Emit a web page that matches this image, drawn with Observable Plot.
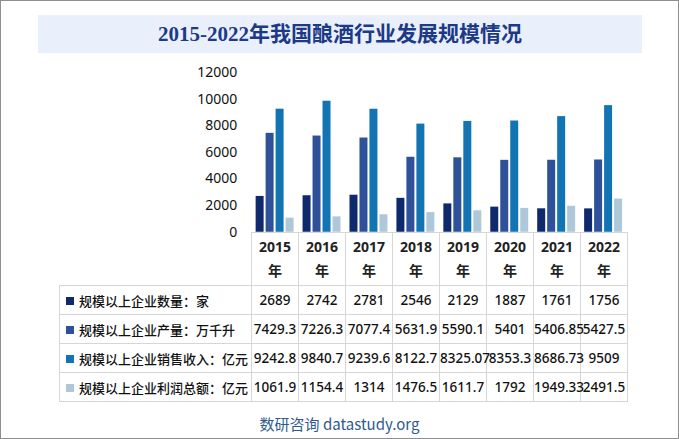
<!DOCTYPE html>
<html>
<head>
<meta charset="utf-8">
<script src="https://cdn.jsdelivr.net/npm/d3@7"></script>
<script src="https://cdn.jsdelivr.net/npm/@observablehq/plot@0.6"></script>
<style>
  html, body { margin: 0; padding: 0; background: #fff; }
  #frame {
    position: relative; width: 677px; height: 437px;
    border: 1px solid #8e8e8e; background: #fff; overflow: hidden;
    font-family: "Noto Sans", "Noto Sans CJK SC", sans-serif;
  }
  #title {
    position: absolute; left: 37px; top: 14px; width: 604px; height: 38px;
    background: #e9f0fb; color: #1c3a86; text-align: center;
    font: bold 21px/38px "Liberation Serif", "Noto Sans CJK SC", serif;
  }
  #chart { position: absolute; left: -1px; top: 59px; }
  #chart svg { overflow: visible; }
  #tbl {
    position: absolute; left: 58px; top: 231px; width: 568px;
    border-collapse: collapse; table-layout: fixed;
    font-family: "Noto Sans", "Noto Sans CJK SC", sans-serif;
    color: #111;
  }
  #tbl td { border: 1px solid #d6d6d6; padding: 0; white-space: nowrap; overflow: visible; }
  #tbl td.corner { border: none; border-bottom: 1px solid #d6d6d6; border-right: 1px solid #d6d6d6; }
  #tbl tr.head td { height: 52px; text-align: center; font-weight: bold; font-size: 14px; line-height: 24px; color: #222; }
  #tbl tr.row td { height: 28px; font-size: 13.5px; text-align: center; color: #111; font-weight: 500; }
  #tbl tr.row td.lab { text-align: left; padding-left: 6px; font-size: 13px; font-weight: 500; font-family: "Noto Sans CJK SC", sans-serif; }
  .sw { display: inline-block; width: 8px; height: 8px; margin-right: 5px; vertical-align: 1px; }
  #src {
    position: absolute; left: 0; width: 677px; top: 412px; text-align: center;
    font-size: 15px; color: #2d5b8d; font-family: "Noto Sans CJK SC", "Noto Sans", sans-serif;
  }
</style>
</head>
<body>
<div id="frame">
  <div id="title">2015-2022年我国酿酒行业发展规模情况</div>
  <div id="chart"></div>
  <table id="tbl"></table>
  <div id="src">数研咨询 datastudy.org</div>
</div>
<script>
const years = ["2015", "2016", "2017", "2018", "2019", "2020", "2021", "2022"];
const yearLabels = ["2015年", "2016年", "2017年", "2018年", "2019年", "2020年", "2021年", "2022年"];
const seriesNames = ["规模以上企业数量：家", "规模以上企业产量：万千升", "规模以上企业销售收入：亿元", "规模以上企业利润总额：亿元"];
const enterprises = [2689, 2742, 2781, 2546, 2129, 1887, 1761, 1756];
const production = [7429.3, 7226.3, 7077.4, 5631.9, 5590.1, 5401, 5406.85, 5427.5];
const sales = [9242.8, 9840.7, 9239.6, 8122.7, 8325.07, 8353.3, 8686.73, 9509];
const profit = [1061.9, 1154.4, 1314, 1476.5, 1611.7, 1792, 1949.33, 2491.5];
const yTicks = [0, 2000, 4000, 6000, 8000, 10000, 12000];
const colors = ["#0e2a6d", "#2f519a", "#1274b2", "#aec8d9"];

const seriesValues = [enterprises, production, sales, profit];
const rows = [];
years.forEach((yr, i) => {
  seriesNames.forEach((s, j) => rows.push({year: yr, series: s, value: seriesValues[j][i]}));
});

const chart = Plot.plot({
  width: 679,
  height: 176,
  marginLeft: 251,
  marginRight: 52,
  marginTop: 12,
  marginBottom: 4,
  style: {fontSize: "14px", fontFamily: "Noto Sans, sans-serif", color: "#111", background: "transparent"},
  fx: {domain: years, padding: 0, axis: null, label: null},
  x: {domain: seriesNames, paddingInner: 0.25, paddingOuter: 0.32, axis: null},
  y: {domain: [0, 12000], ticks: yTicks, tickSize: 0, tickPadding: 14, tickFormat: d3.format("d"), label: null},
  color: {domain: seriesNames, range: colors},
  marks: [
    Plot.barY(rows, {fx: "year", x: "series", y: "value", fill: "series"})
  ]
});
document.getElementById("chart").appendChild(chart);

// data table
const tbl = d3.select("#tbl");
const cg = tbl.append("colgroup");
cg.append("col").style("width", "192px");
years.forEach(() => cg.append("col").style("width", "47px"));
const head = tbl.append("tr").attr("class", "head");
head.append("td").attr("class", "corner");
yearLabels.forEach(l => head.append("td").html(l.replace("年", "<br>年")));
seriesNames.forEach((s, j) => {
  const tr = tbl.append("tr").attr("class", "row");
  const lab = tr.append("td").attr("class", "lab");
  lab.append("span").attr("class", "sw").style("background", colors[j]);
  lab.append("span").text(s);
  seriesValues[j].forEach(v => tr.append("td").text(String(v)));
});
</script>
</body>
</html>
